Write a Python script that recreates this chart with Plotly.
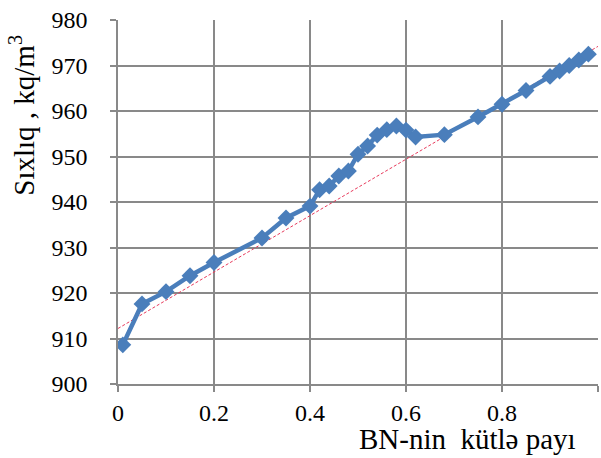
import plotly.graph_objects as go

bn_fraction = [0.01, 0.05, 0.10, 0.15, 0.20, 0.30, 0.35, 0.40, 0.42, 0.44, 0.46, 0.48,
               0.50, 0.52, 0.54, 0.56, 0.58, 0.60, 0.62, 0.68, 0.75, 0.80, 0.85, 0.90,
               0.92, 0.94, 0.96, 0.98]
density = [908.6, 917.6, 920.3, 923.8, 926.7, 932.1, 936.5, 939.1, 942.7, 943.5, 945.7, 946.8,
           950.5, 952.3, 954.7, 955.9, 956.7, 955.8, 954.3, 954.8, 958.7, 961.5, 964.5, 967.6,
           968.8, 970.0, 971.2, 972.5]
trend_intercept = 912.2
trend_slope = 62.0
trend_x = [0.0, 1.0]
trend_y = [trend_intercept + trend_slope * x for x in trend_x]

x_ticks = [0, 0.2, 0.4, 0.6, 0.8, 1]
x_labels = ["0", "0.2", "0.4", "0.6", "0.8", "1"]
y_ticks = [900, 910, 920, 930, 940, 950, 960, 970, 980]

FONT = "Liberation Serif"
FS = 24
TFS = 29
GRID = "#898989"

fig = go.Figure()
fig.add_trace(go.Scatter(x=trend_x, y=trend_y, mode="lines",
                         line=dict(color="#e83a5c", width=1, dash="3px,2px"),
                         showlegend=False, hoverinfo="skip"))
fig.add_trace(go.Scatter(x=bn_fraction, y=density, mode="lines+markers",
                         line=dict(color="#4a7ebb", width=4.5),
                         marker=dict(symbol="diamond", size=13, color="#4a7ebb"),
                         showlegend=False))

fig.update_layout(
    width=601, height=458,
    margin=dict(l=118, r=3, t=20, b=74),
    paper_bgcolor="white", plot_bgcolor="white",
    font=dict(family=FONT, size=FS, color="black"),
    xaxis=dict(range=[0, 1], tickvals=x_ticks, ticktext=x_labels,
               showgrid=True, gridcolor=GRID, gridwidth=1.5,
               showline=True, linecolor=GRID, linewidth=1.5,
               ticks="outside", ticklen=6, tickcolor=GRID, tickwidth=1.5,
               zeroline=False, tickfont=dict(family=FONT, size=FS)),
    yaxis=dict(range=[900, 980], tickvals=y_ticks,
               showgrid=True, gridcolor=GRID, gridwidth=1.5,
               showline=True, linecolor=GRID, linewidth=1.5,
               ticks="outside", ticklen=6, tickcolor=GRID, tickwidth=1.5,
               ticklabelstandoff=18,
               zeroline=False, tickfont=dict(family=FONT, size=FS)),
    annotations=[
        dict(text="BN-nin  kütlə payı", xref="paper", yref="paper", x=0.729, y=-0.152,
             xanchor="center", yanchor="middle", showarrow=False,
             font=dict(family=FONT, size=TFS)),
        dict(text="Sıxlıq , kq/m<sup>3</sup>", xref="paper", yref="paper", x=-0.2, y=0.737,
             xanchor="center", yanchor="middle", textangle=-90, showarrow=False,
             font=dict(family=FONT, size=TFS)),
    ],
)

fig.write_html("out.html")
